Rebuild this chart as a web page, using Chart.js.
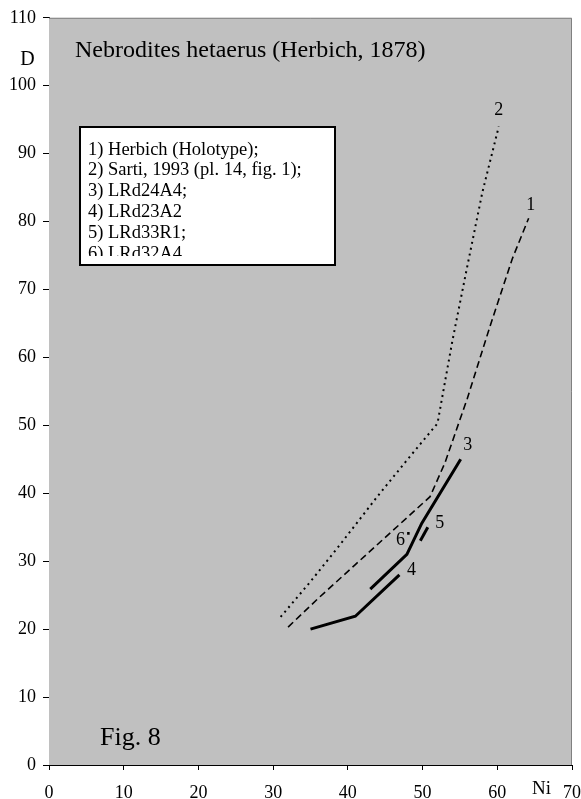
<!DOCTYPE html>
<html>
<head>
<meta charset="utf-8">
<script src="https://cdn.jsdelivr.net/npm/chart.js@4"></script>
<style>
  html, body { margin: 0; padding: 0; background: #fff; }
  canvas { display: block; }
</style>
</head>
<body>
<canvas id="c" width="581" height="799"></canvas>
<script>
// Ni (number of ribs) vs D (diameter) for Nebrodites hetaerus specimens
const herbichNi = [32, 36, 41, 47, 51, 53, 56, 59, 62, 64.2];
const herbichD  = [20.3, 24.5, 29.5, 35.5, 39.5, 44.5, 54, 64.5, 74.5, 80.5];

const sartiNi = [31, 35, 39, 44, 48, 52, 54, 56, 58, 60.2];
const sartiD  = [21.8, 27, 32.5, 39.6, 45, 50.3, 62.5, 73.5, 84.3, 94];

const lrd24a4Ni = [43, 47.9, 49.9, 55.1];
const lrd24a4D  = [25.9, 31, 35.6, 45];

const lrd23a2Ni = [35, 41, 46.9];
const lrd23a2D  = [20, 21.9, 28];

const lrd33r1Ni = [49.7, 50.7];
const lrd33r1D  = [33, 35];

const lrd32a4Ni = [48.1];
const lrd32a4D  = [34.1];

const seriesTags = ['1', '2', '3', '4', '5', '6'];
const legendLines = [
  '1) Herbich (Holotype);',
  '2) Sarti, 1993 (pl. 14, fig. 1);',
  '3) LRd24A4;',
  '4) LRd23A2',
  '5) LRd33R1;',
  '6) LRd32A4'
];
const xTicks = [0, 10, 20, 30, 40, 50, 60, 70];
const yTicks = [0, 10, 20, 30, 40, 50, 60, 70, 80, 90, 100, 110];

const SERIF = "'Liberation Serif', 'Times New Roman', serif";

function pts(xs, ys) { return xs.map((x, i) => ({ x: x, y: ys[i] })); }

// offsets (px) of each series tag from the series' last point
const tagOffsets = [[2, -13], [0, -16], [7, -14], [12, -5], [12, -4], [-8, 7]];

const frame = {
  id: 'frame',
  beforeDatasetsDraw(chart) {
    const { ctx, chartArea: a } = chart;
    ctx.save();
    ctx.fillStyle = '#c0c0c0';
    ctx.fillRect(a.left, a.top, a.right - a.left, a.bottom - a.top);
    ctx.strokeStyle = '#808080';
    ctx.lineWidth = 1;
    ctx.beginPath();
    ctx.moveTo(a.left, a.top + 0.5);
    ctx.lineTo(a.right - 0.5, a.top + 0.5);
    ctx.lineTo(a.right - 0.5, a.bottom);
    ctx.stroke();
    ctx.restore();
  },
  afterDraw(chart) {
    const { ctx, scales } = chart;
    ctx.save();
    ctx.fillStyle = '#000';
    ctx.textBaseline = 'alphabetic';

    // heading and axis names
    ctx.font = '24px ' + SERIF;
    ctx.textAlign = 'left';
    ctx.fillText('Nebrodites hetaerus (Herbich, 1878)', 75, 57);
    ctx.font = '20px ' + SERIF;
    ctx.textAlign = 'center';
    ctx.fillText('D', 27.5, 65);
    ctx.font = '19px ' + SERIF;
    ctx.textAlign = 'left';
    ctx.fillText('Ni', 532, 794);
    ctx.font = '26px ' + SERIF;
    ctx.fillText('Fig. 8', 100, 745);

    // series tags at the line ends
    ctx.font = '18px ' + SERIF;
    ctx.textAlign = 'center';
    ctx.textBaseline = 'middle';
    chart.data.datasets.forEach((ds, i) => {
      const last = ds.data[ds.data.length - 1];
      const px = scales.x.getPixelForValue(last.x) + tagOffsets[i][0];
      const py = scales.y.getPixelForValue(last.y) + tagOffsets[i][1];
      ctx.fillText(seriesTags[i], px, py);
    });

    // legend box
    const bx = 80, by = 127, bw = 255, bh = 138;
    ctx.fillStyle = '#fff';
    ctx.fillRect(bx, by, bw, bh);
    ctx.strokeStyle = '#000';
    ctx.lineWidth = 2;
    ctx.strokeRect(bx, by, bw, bh);
    ctx.save();
    ctx.beginPath();
    ctx.rect(bx + 2, by + 2, bw - 4, 256 - by - 2);
    ctx.clip();
    ctx.fillStyle = '#000';
    ctx.font = '18.5px ' + SERIF;
    ctx.textAlign = 'left';
    ctx.textBaseline = 'alphabetic';
    legendLines.forEach((t, i) => ctx.fillText(t, 88, 154.5 + i * 20.8));
    ctx.restore();
    ctx.restore();
  }
};

new Chart(document.getElementById('c'), {
  type: 'scatter',
  data: {
    datasets: [
      { data: pts(herbichNi, herbichD), showLine: true, borderColor: '#000', borderWidth: 1.6, borderDash: [7, 4], pointRadius: 0, tension: 0 },
      { data: pts(sartiNi, sartiD), showLine: true, borderColor: '#000', borderWidth: 2, borderDash: [2, 4], pointRadius: 0, tension: 0 },
      { data: pts(lrd24a4Ni, lrd24a4D), showLine: true, borderColor: '#000', borderWidth: 3, pointRadius: 0, tension: 0 },
      { data: pts(lrd23a2Ni, lrd23a2D), showLine: true, borderColor: '#000', borderWidth: 3, pointRadius: 0, tension: 0 },
      { data: pts(lrd33r1Ni, lrd33r1D), showLine: true, borderColor: '#000', borderWidth: 3, pointRadius: 0, tension: 0 },
      { data: pts(lrd32a4Ni, lrd32a4D), showLine: false, pointRadius: 1.8, pointStyle: 'rect', backgroundColor: '#000', borderColor: '#000', borderWidth: 0 }
    ]
  },
  options: {
    responsive: false,
    animation: false,
    layout: { padding: { top: 17, right: 0, left: 0, bottom: 0 } },
    plugins: { legend: { display: false }, tooltip: { enabled: false } },
    scales: {
      x: {
        type: 'linear', min: 0, max: 70,
        afterBuildTicks(s) { s.ticks = xTicks.map(v => ({ value: v })); },
        afterFit(s) { s.height = 34; s.paddingRight = 9; },
        grid: { drawOnChartArea: false, tickLength: 5, tickColor: '#000', tickWidth: 1 },
        border: { color: '#000', width: 1 },
        ticks: { color: '#000', font: { family: SERIF, size: 18 }, padding: 12, maxRotation: 0, autoSkip: false }
      },
      y: {
        type: 'linear', min: 0, max: 110,
        afterBuildTicks(s) { s.ticks = yTicks.map(v => ({ value: v })); },
        afterFit(s) { s.width = 49; },
        grid: { drawOnChartArea: false, tickLength: 6, tickColor: '#000', tickWidth: 1 },
        border: { color: '#000', width: 1 },
        ticks: { color: '#000', font: { family: SERIF, size: 18 }, padding: 7, autoSkip: false }
      }
    }
  },
  plugins: [frame]
});
</script>
</body>
</html>
